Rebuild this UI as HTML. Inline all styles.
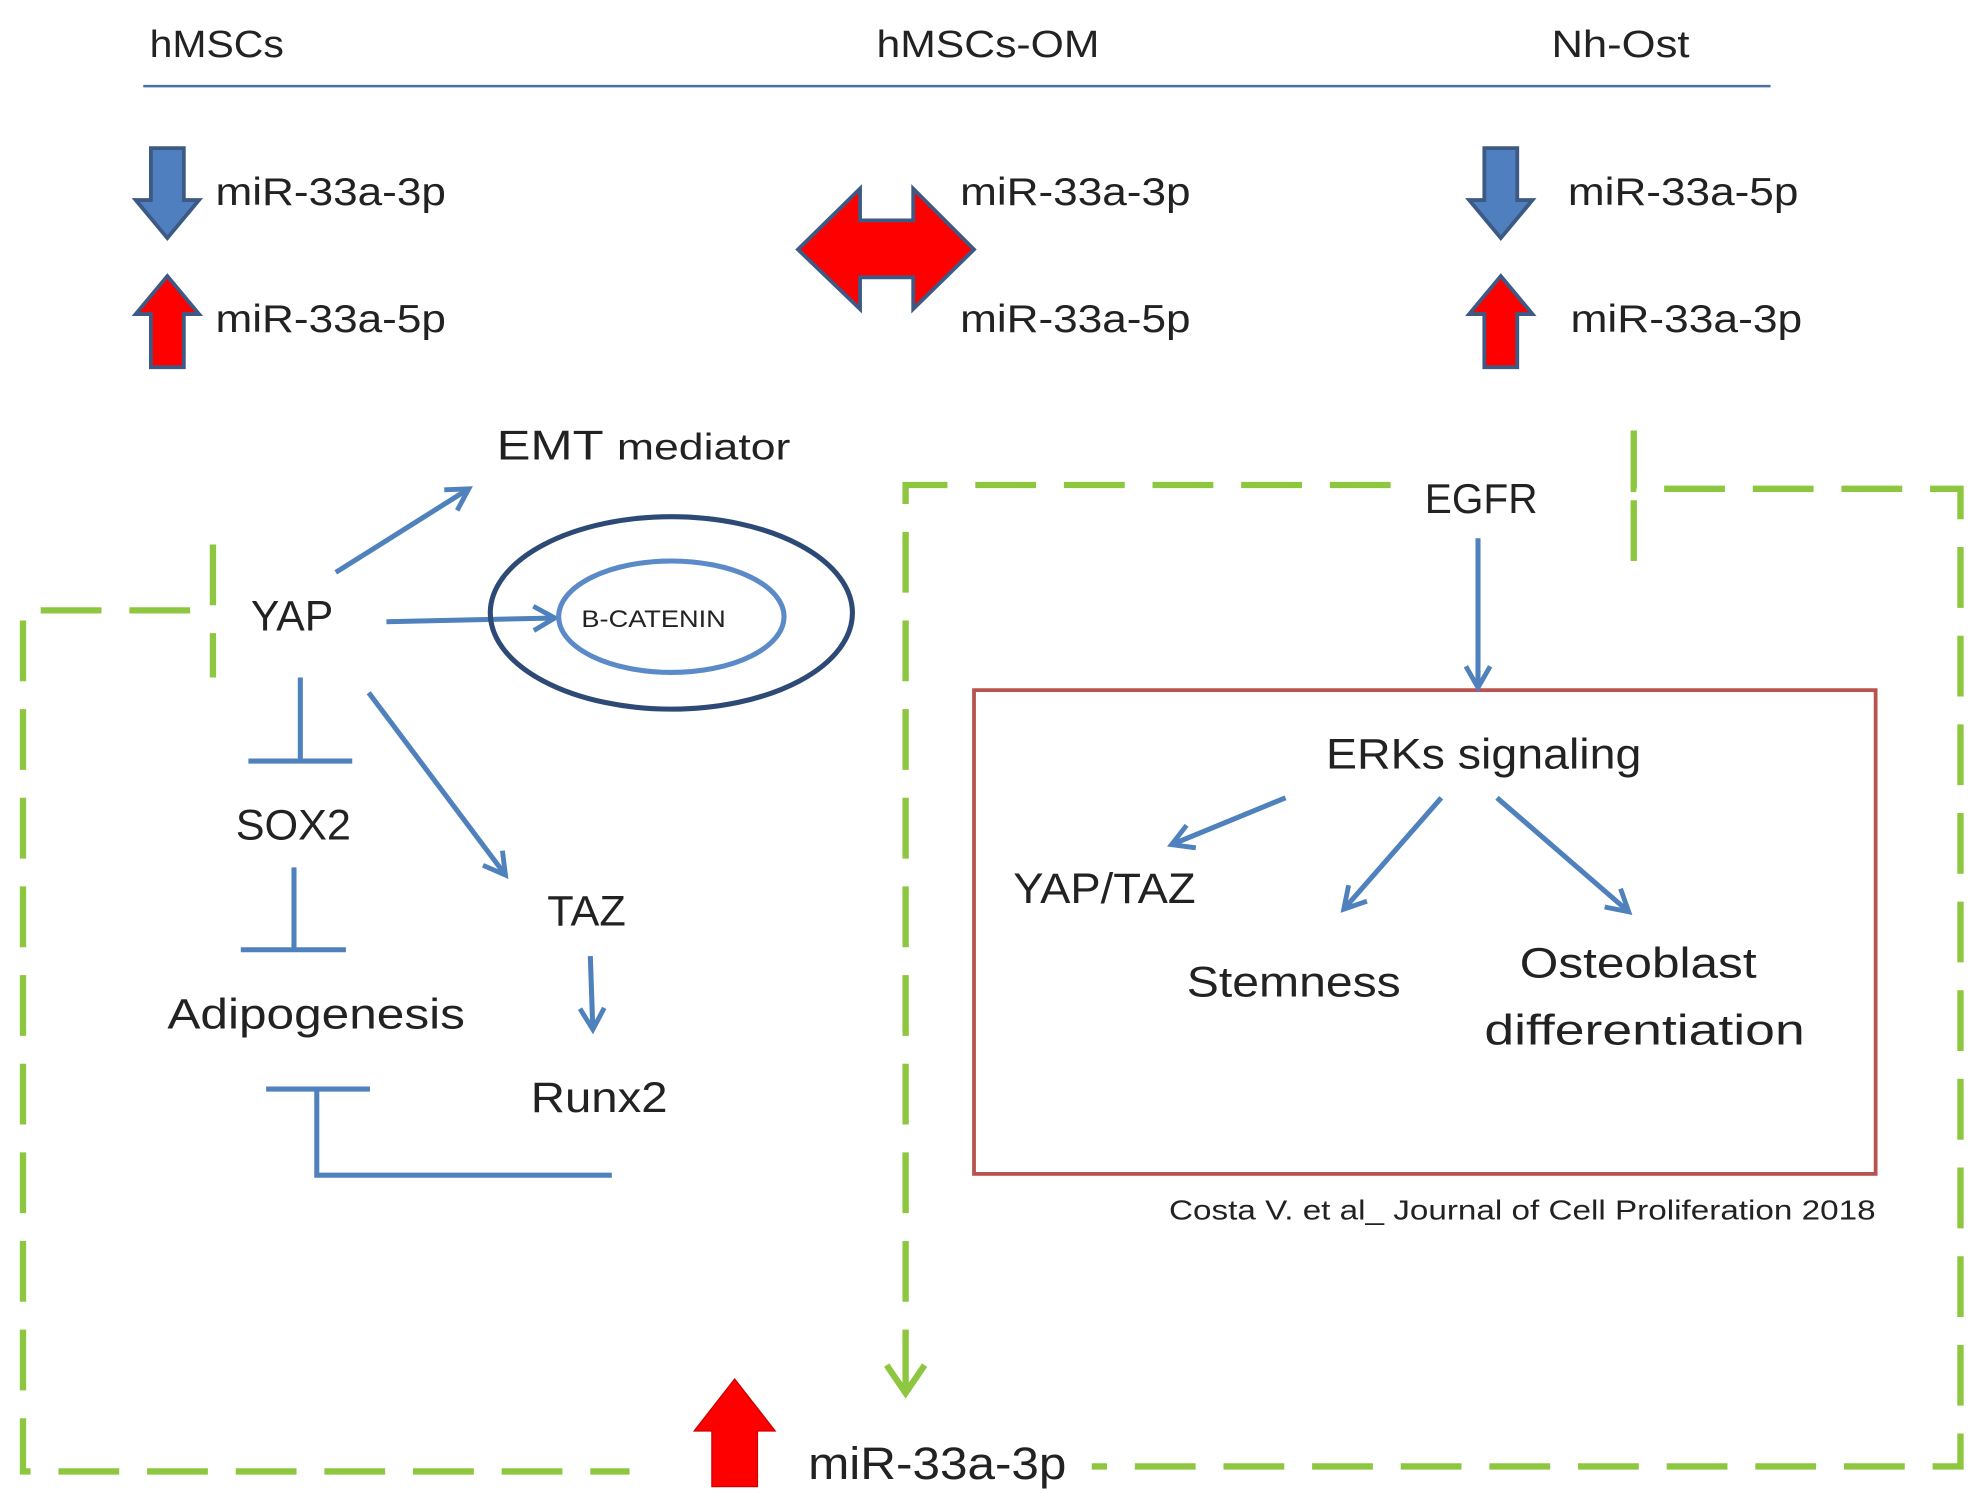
<!DOCTYPE html>
<html><head><meta charset="utf-8"><style>
html,body{margin:0;padding:0;background:#fff;}
svg{display:block;}
text{font-family:"Liberation Sans",sans-serif;fill:#222;}
</style></head><body>
<svg width="1986" height="1512" viewBox="0 0 1568 1194" xmlns="http://www.w3.org/2000/svg">
<defs>
<marker id="ah" viewBox="0 0 10 10" refX="8" refY="5" markerWidth="6" markerHeight="6" orient="auto" markerUnits="strokeWidth">
<path d="M1,1 L8,5 L1,9" fill="none" stroke="#4f81bd" stroke-width="1.6"/>
</marker>
</defs>
<g font-size="30">
<text x="118" y="45" textLength="106" lengthAdjust="spacingAndGlyphs">hMSCs</text>
<text x="692" y="45" textLength="176" lengthAdjust="spacingAndGlyphs">hMSCs-OM</text>
<text x="1225" y="45" textLength="109" lengthAdjust="spacingAndGlyphs">Nh-Ost</text>
</g>
<line x1="113" y1="68" x2="1398" y2="68" stroke="#4a6fa5" stroke-width="2"/>
<g stroke="#3c5a84" stroke-width="3" stroke-linejoin="miter">
<path d="M119,117 H145 V158 H157 L132,188 L107,158 H119 Z" fill="#4f7fbf"/>
<path d="M132,218 L157,248 H145 V290 H119 V248 H107 Z" fill="#ff0000"/>
<path d="M1172,117 H1198 V158 H1210 L1185,188 L1160,158 H1172 Z" fill="#4f7fbf"/>
<path d="M1185,218 L1210,248 H1198 V290 H1172 V248 H1160 Z" fill="#ff0000"/>
<path d="M630,197 L679,149 V174 H721 V149 L769,197 L721,244 V219 H679 V244 Z" fill="#ff0000"/>
<path d="M580,1089 L612,1130 H598 V1174 H562 V1130 H548 Z" fill="#ff0000" stroke="#c00" stroke-width="1"/>
</g>
<g font-size="31">
<text x="170" y="162" textLength="182" lengthAdjust="spacingAndGlyphs">miR-33a-3p</text>
<text x="170" y="262" textLength="182" lengthAdjust="spacingAndGlyphs">miR-33a-5p</text>
<text x="758" y="162" textLength="182" lengthAdjust="spacingAndGlyphs">miR-33a-3p</text>
<text x="758" y="262" textLength="182" lengthAdjust="spacingAndGlyphs">miR-33a-5p</text>
<text x="1238" y="162" textLength="182" lengthAdjust="spacingAndGlyphs">miR-33a-5p</text>
<text x="1240" y="262" textLength="183" lengthAdjust="spacingAndGlyphs">miR-33a-3p</text>
</g>
<text x="392" y="363" font-size="33" textLength="232" lengthAdjust="spacingAndGlyphs">EMT <tspan font-size="29">mediator</tspan></text>
<g stroke="#8dc63f" stroke-width="5" fill="none" stroke-dasharray="48,22">
<path d="M168,430 V535"/>
<path d="M150,482 H18 V1162 H497"/>
<path d="M1098,383 H715 V1098"/>
<path d="M1290,340 V386 H1548 V1158 H862"/>
<path d="M1290,395 V445"/>
</g>
<path d="M700,1078 L715,1100 L730,1078" stroke="#8dc63f" stroke-width="5" fill="none"/>
<text x="1125" y="405" font-size="33" textLength="89" lengthAdjust="spacingAndGlyphs">EGFR</text>
<rect x="769" y="545" width="712" height="382" fill="none" stroke="#b85450" stroke-width="3"/>
<g stroke="#4f81bd" stroke-width="4" fill="none" stroke-linecap="butt">
<line x1="1167" y1="425" x2="1167" y2="543" marker-end="url(#ah)"/>
<line x1="1015" y1="630" x2="925" y2="667" marker-end="url(#ah)"/>
<line x1="1138" y1="630" x2="1061" y2="718" marker-end="url(#ah)"/>
<line x1="1182" y1="630" x2="1286" y2="720" marker-end="url(#ah)"/>
<line x1="265" y1="452" x2="370" y2="386" marker-end="url(#ah)"/>
<line x1="305" y1="491" x2="438" y2="488" marker-end="url(#ah)"/>
<line x1="291" y1="547" x2="399" y2="691" marker-end="url(#ah)"/>
<line x1="466" y1="755" x2="468" y2="813" marker-end="url(#ah)"/>
<path d="M237,535 V601 M196,601 H278"/>
<path d="M232,685 V750 M190,750 H273"/>
<path d="M483,928 H250 V860 M210,860 H292"/>
</g>
<ellipse cx="530" cy="484" rx="143" ry="76" fill="none" stroke="#2c4a75" stroke-width="4"/>
<ellipse cx="530" cy="487" rx="89" ry="44" fill="none" stroke="#5b8ac8" stroke-width="4"/>
<text x="459" y="495" font-size="19" textLength="114" lengthAdjust="spacingAndGlyphs">B-CATENIN</text>
<g font-size="34">
<text x="1047" y="607" textLength="249" lengthAdjust="spacingAndGlyphs">ERKs signaling</text>
<text x="800" y="713" textLength="144" lengthAdjust="spacingAndGlyphs">YAP/TAZ</text>
<text x="937" y="787" textLength="169" lengthAdjust="spacingAndGlyphs">Stemness</text>
<text x="1200" y="772" textLength="187" lengthAdjust="spacingAndGlyphs">Osteoblast</text>
<text x="1172" y="825" textLength="253" lengthAdjust="spacingAndGlyphs">differentiation</text>
<text x="198" y="498" textLength="65" lengthAdjust="spacingAndGlyphs">YAP</text>
<text x="186" y="663" textLength="91" lengthAdjust="spacingAndGlyphs">SOX2</text>
<text x="132" y="812" textLength="235" lengthAdjust="spacingAndGlyphs">Adipogenesis</text>
<text x="432" y="731" textLength="62" lengthAdjust="spacingAndGlyphs">TAZ</text>
<text x="419" y="878" textLength="108" lengthAdjust="spacingAndGlyphs">Runx2</text>
</g>
<text x="923" y="963" font-size="22" textLength="558" lengthAdjust="spacingAndGlyphs">Costa V. et al_ Journal of Cell Proliferation 2018</text>
<text x="638" y="1168" font-size="36" textLength="204" lengthAdjust="spacingAndGlyphs">miR-33a-3p</text>
</svg>
</body></html>
